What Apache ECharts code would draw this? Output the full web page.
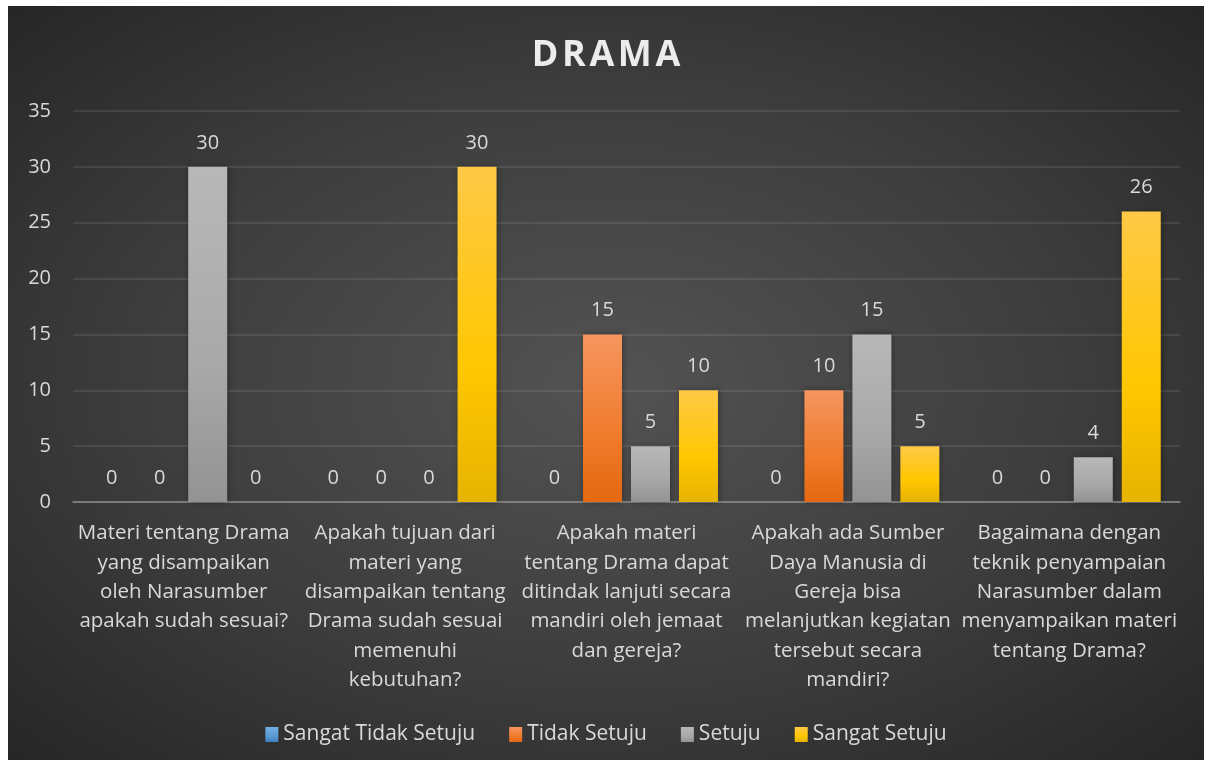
<!DOCTYPE html>
<html>
<head>
<meta charset="utf-8">
<script src="https://cdn.jsdelivr.net/npm/echarts@6/dist/echarts.min.js"></script>
<style>
  html, body { margin: 0; padding: 0; background: #fff; }
  #main {
    position: absolute; left: 8px; top: 6px; width: 1196px; height: 754px;
    background: radial-gradient(ellipse at 50% 50%, #535353 0%, #3d3d3d 55%, #262626 100%);
  }
</style>
</head>
<body>
<div id="main"></div>
<script>
// kategori (pertanyaan)
const categories = [
  'Materi tentang Drama\nyang disampaikan\noleh Narasumber\napakah sudah sesuai?',
  'Apakah tujuan dari\nmateri yang\ndisampaikan tentang\nDrama sudah sesuai\nmemenuhi\nkebutuhan?',
  'Apakah materi\ntentang Drama dapat\nditindak lanjuti secara\nmandiri oleh jemaat\ndan gereja?',
  'Apakah ada Sumber\nDaya Manusia di\nGereja bisa\nmelanjutkan kegiatan\ntersebut secara\nmandiri?',
  'Bagaimana dengan\nteknik penyampaian\nNarasumber dalam\nmenyampaikan materi\ntentang Drama?'
]
const seriesNames = ['Sangat Tidak Setuju', 'Tidak Setuju', 'Setuju', 'Sangat Setuju']
const sangatTidakSetuju = [0, 0, 0, 0, 0]
const tidakSetuju = [0, 0, 15, 10, 0]
const setuju = [30, 0, 5, 15, 4]
const sangatSetuju = [0, 30, 10, 5, 26]
const yTicks = [0, 5, 10, 15, 20, 25, 30, 35]

const font = '"Open Sans", sans-serif'
const textColor = '#d9d9d9'

// warna gradasi batang
function grad(top, mid, bottom) {
  return {
    type: 'linear', x: 0, y: 0, x2: 0, y2: 1,
    colorStops: [
      { offset: 0, color: top },
      { offset: 0.6, color: mid },
      { offset: 1, color: bottom }
    ]
  }
}
const colors = [
  grad('#74aee3', '#5b9bd5', '#3f7fc0'),
  grad('#f5955f', '#f07b2c', '#e4690f'),
  grad('#b8b8b8', '#a8a8a8', '#939393'),
  grad('#ffc947', '#ffc700', '#e6b300')
]

const myChart = echarts.init(document.querySelector('#main'))

function makeSeries(name, data, i) {
  return {
    name: name,
    type: 'bar',
    data: data,
    barWidth: 39,
    barGap: '23%',
    itemStyle: {
      color: colors[i],
      shadowColor: 'rgba(0,0,0,0.35)',
      shadowBlur: 6,
      shadowOffsetX: 1,
      shadowOffsetY: 0
    },
    label: {
      show: true,
      position: 'top',
      distance: 14,
      color: textColor,
      fontSize: 20,
      fontFamily: font
    }
  }
}

const option = {
  backgroundColor: 'transparent',
  // judul
  title: {
    text: 'D\u200AR\u200AA\u200AM\u200AA',
    left: 'center',
    top: 27,
    textStyle: {
      color: '#ececec',
      fontSize: 36,
      fontWeight: 'bold',
      fontFamily: font
    }
  },
  legend: {
    bottom: 10,
    left: 'center',
    itemWidth: 13,
    itemHeight: 15,
    itemGap: 34,
    icon: 'rect',
    textStyle: { color: textColor, fontSize: 21, fontFamily: font, padding: [0, 0, 0, 0] },
    data: seriesNames
  },
  color: colors,
  grid: {
    left: 65,
    right: 24,
    top: 105,
    bottom: 258
  },
  xAxis: {
    type: 'category',
    data: categories,
    axisTick: { show: false },
    axisLine: { lineStyle: { color: '#8c8c8c', width: 1.5 } },
    axisLabel: {
      interval: 0,
      color: textColor,
      fontSize: 20.5,
      lineHeight: 29.3,
      fontFamily: font,
      margin: 17,
      align: 'center'
    }
  },
  yAxis: {
    type: 'value',
    min: 0,
    max: 35,
    interval: 5,
    axisLine: { show: false },
    axisTick: { show: false },
    splitLine: { lineStyle: { color: 'rgba(255,255,255,0.12)', width: 1.5 } },
    axisLabel: {
      color: textColor,
      fontSize: 20,
      fontFamily: font,
      margin: 22,
      formatter: v => (yTicks.includes(v) ? String(v) : '')
    }
  },
  series: [
    makeSeries(seriesNames[0], sangatTidakSetuju, 0),
    makeSeries(seriesNames[1], tidakSetuju, 1),
    makeSeries(seriesNames[2], setuju, 2),
    makeSeries(seriesNames[3], sangatSetuju, 3)
  ]
}
myChart.setOption(option)
</script>
</body>
</html>
